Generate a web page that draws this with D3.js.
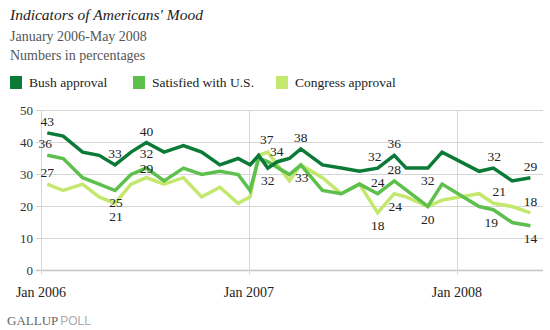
<!DOCTYPE html>
<html>
<head>
<meta charset="utf-8">
<script src="https://cdn.jsdelivr.net/npm/d3@7"></script>
<style>
  body { margin: 0; background: #fff; }
  svg text { font-family: "Liberation Serif", "Times New Roman", serif; }
</style>
</head>
<body>
<svg id="chart" width="550" height="330"></svg>
<script>
// poll field dates (one row per poll, shared by the three series)
const pollDates = [
  "2006-01-12", "2006-02-09", "2006-03-15", "2006-04-13", "2006-05-11", "2006-06-08",
  "2006-07-05", "2006-08-05", "2006-09-08", "2006-10-10", "2006-11-11", "2006-12-13",
  "2007-01-03", "2007-01-18", "2007-02-03", "2007-02-20", "2007-03-13", "2007-04-02",
  "2007-05-10", "2007-06-12", "2007-07-14", "2007-08-15", "2007-09-13", "2007-10-04",
  "2007-11-11", "2007-12-06", "2008-02-09", "2008-03-05", "2008-04-07", "2008-05-09"
];

// null = question not asked in that poll
const bushApproval = [43, 42, 37, 36, 33, 37, 40, 37, 39, 37, 33, 35,
                      33, 36, 32, 34, 35, 38, 33, 32, 31, 32, 36, 32,
                      32, 37, 31, 32, 28, 29];
const satisfiedUS = [36, 35, 29, 27, 25, 30, 32, 28, 32, 30, 31, 30,
                     25, 35, 34, null, 30, 33, 25, 24, 27, 24, 28, null,
                     20, 27, 20, 19, 15, 14];
const congressApproval = [27, 25, 27, 23, 21, 27, 29, 27, 29, 23, 26, 21,
                          23, 36, 37, null, 28, 33, 29, 24, 27, 18, 24, 23,
                          20, 22, 24, 21, 20, 18];

const seriesNames = ["Bush approval", "Satisfied with U.S.", "Congress approval"];
const seriesColors = ["#0b7a36", "#5dbf4c", "#c4e76e"];

const yTicks = [0, 10, 20, 30, 40, 50];
const xTickDates = ["2006-01-01", "2007-01-01", "2008-01-01"];

// which points carry a value label: [series, poll index, side, dx, dy]
const pointLabels = [
  [0, 0, "up", 0, 0], [0, 4, "up", 0, 0], [0, 6, "up", 0, 0], [0, 14, "down", 0, 0],
  [0, 17, "up", 0, 0], [0, 21, "up", -3, 0], [0, 22, "up", 0, 0], [0, 24, "down", 0, 0],
  [0, 27, "up", 1, 0], [0, 29, "up", 0, 0],
  [1, 0, "up", -2, 0], [1, 4, "down", 1, -1], [1, 6, "up", 0, -3], [1, 14, "up", 9, 1],
  [1, 21, "up", 0, 0], [1, 22, "up", 0, 0], [1, 24, "down", 0, 0], [1, 27, "down", -2, 0],
  [1, 29, "down", 0, 0],
  [2, 0, "up", 0, 0], [2, 4, "down", 1, 1], [2, 6, "up", 0, 2], [2, 14, "up", -1, -1],
  [2, 17, "down", 1, 0], [2, 21, "down", 0, 0], [2, 22, "down", 1, 0], [2, 27, "up", 6, 0],
  [2, 29, "up", 0, 0]
];

const parse = d3.timeParse("%Y-%m-%d");
const dates = pollDates.map(parse);
const allSeries = [bushApproval, satisfiedUS, congressApproval];

const svg = d3.select("#chart");

const x = d3.scaleTime()
  .domain([parse("2006-01-01"), parse("2008-06-01")])
  .range([41, 543.5]);
const y = d3.scaleLinear().domain([0, 50]).range([270.5, 110.5]);

// header
svg.append("text").attr("x", 10).attr("y", 20)
  .style("font-style", "italic").style("font-size", "15.5px").attr("fill", "#222")
  .text("Indicators of Americans' Mood");
svg.append("text").attr("x", 10).attr("y", 41)
  .style("font-size", "14px").attr("fill", "#555")
  .text("January 2006-May 2008");
svg.append("text").attr("x", 10).attr("y", 60)
  .style("font-size", "14px").attr("fill", "#555")
  .text("Numbers in percentages");

// legend
const legendX = [10, 133, 276];
const legend = svg.append("g").selectAll("g")
  .data(seriesNames)
  .join("g")
  .attr("transform", (d, i) => `translate(${legendX[i]},76)`);
legend.append("rect").attr("width", 12).attr("height", 13)
  .attr("fill", (d, i) => seriesColors[i]);
legend.append("text").attr("x", 19).attr("y", 11)
  .style("font-size", "13.5px").attr("fill", "#222")
  .text(d => d);

// grid
const grid = svg.append("g");
grid.selectAll("line.h")
  .data(yTicks)
  .join("line")
  .attr("class", "h")
  .attr("x1", 36).attr("x2", 543)
  .attr("y1", d => y(d)).attr("y2", d => y(d))
  .attr("stroke", d => d === 0 ? "#c4c4c4" : "#d6d6d6")
  .attr("stroke-width", d => d === 0 ? 1.5 : 1);

const xTicks = xTickDates.map(parse);
grid.selectAll("line.v")
  .data(xTicks)
  .join("line")
  .attr("class", "v")
  .attr("x1", d => Math.round(x(d)) + 0.5).attr("x2", d => Math.round(x(d)) + 0.5)
  .attr("y1", y(50)).attr("y2", y(0) + 4)
  .attr("stroke", "#d6d6d6");

// axis labels
svg.append("g").selectAll("text")
  .data(yTicks)
  .join("text")
  .attr("x", 33).attr("y", d => y(d) + 4)
  .attr("text-anchor", "end")
  .style("font-size", "13px").attr("fill", "#333")
  .text(d => d);

const fmt = d3.timeFormat("%b %Y");
svg.append("g").selectAll("text")
  .data(xTicks)
  .join("text")
  .attr("x", d => x(d)).attr("y", 297)
  .attr("text-anchor", "middle")
  .style("font-size", "14px").attr("fill", "#222")
  .text(d => fmt(d));

// lines, drawn lightest first so Bush approval sits on top
const line = d3.line()
  .x(d => x(d.date))
  .y(d => y(d.value));

[2, 1, 0].forEach(s => {
  const pts = dates.map((date, i) => ({ date, value: allSeries[s][i] }))
    .filter(d => d.value != null);
  svg.append("path")
    .datum(pts)
    .attr("d", line)
    .attr("fill", "none")
    .attr("stroke", seriesColors[s])
    .attr("stroke-width", 3.5);
});

// value labels
svg.append("g").selectAll("text")
  .data(pointLabels)
  .join("text")
  .attr("x", d => x(dates[d[1]]) + d[3])
  .attr("y", d => y(allSeries[d[0]][d[1]]) + (d[2] === "up" ? -7 : 17) + d[4])
  .attr("text-anchor", "middle")
  .style("font-size", "13.5px").attr("fill", "#222")
  .text(d => allSeries[d[0]][d[1]]);

// footer
const foot = svg.append("text").attr("x", 7).attr("y", 325).style("font-size", "13px");
foot.append("tspan").attr("fill", "#666").text("GALLUP");
foot.append("tspan").attr("fill", "#aaa").attr("dx", 2)
  .style("font-family", "'Liberation Sans', Arial, sans-serif").style("font-size", "12px")
  .text("POLL");
</script>
</body>
</html>
